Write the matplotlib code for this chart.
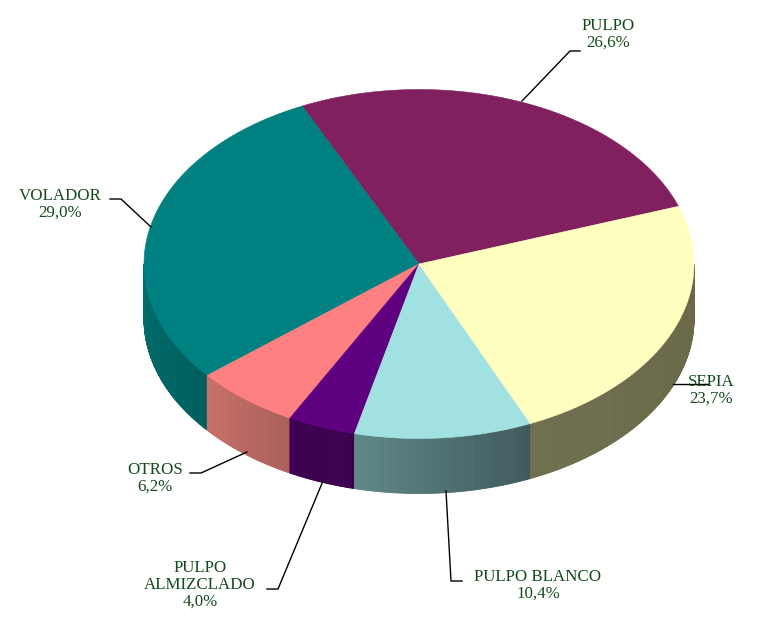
import numpy as np
import matplotlib
matplotlib.use('Agg')
import matplotlib.pyplot as plt
from matplotlib.patches import Polygon
from matplotlib.colors import to_rgb

plt.rcParams['font.family'] = ['Liberation Serif', 'DejaVu Serif']

# data, counter clockwise from the PULPO / SEPIA boundary
names = ['PULPO', 'VOLADOR', 'OTROS', 'PULPO\nALMIZCLADO', 'PULPO BLANCO', 'SEPIA']
values = [26.6, 29.0, 6.2, 4.0, 10.4, 23.7]
top_colors = ['#80205f', '#008080', '#ff8080', '#5f0080', '#a2e1e1', '#ffffc0']
side_from = ['#5a1643', '#016f6e', '#c9716a', '#3c0050', '#5f8886', '#6f6f50']
side_to = ['#5a1643', '#005f5e', '#aa5f5a', '#3a004e', '#3f5a5c', '#696948']

start_angle = 19.3
cx, cy = 419, 264
rx, ry = 275, 174.5
depth = 55
text_color = '#124a1c'
font_size = 12.2

fig = plt.figure(figsize=(7.69, 6.17), dpi=100)
ax = fig.add_axes([0, 0, 1, 1])
ax.set_xlim(0, 769)
ax.set_ylim(617, 0)
ax.axis('off')

def ell(a, dz=0):
	t = np.radians(a)
	return cx + rx * np.cos(t), cy - ry * np.sin(t) + dz

# slice boundaries from the values
total = float(sum(values))
spans = [v / total * 360 for v in values]
edges = start_angle + np.concatenate([[0], np.cumsum(spans)])

# side wall, only the front half is seen
for i in range(len(values)):
	a0 = max(edges[i], 180)
	a1 = min(edges[i + 1], 360)
	if a1 <= a0:
		continue
	c0 = np.array(to_rgb(side_from[i]))
	c1 = np.array(to_rgb(side_to[i]))
	steps = np.linspace(a0, a1, int((a1 - a0) * 3) + 2)
	for k in range(len(steps) - 1):
		f = k / max(len(steps) - 2, 1)
		col = c0 + (c1 - c0) * f
		p0 = ell(steps[k])
		p1 = ell(steps[k + 1])
		p2 = ell(steps[k + 1], depth)
		p3 = ell(steps[k], depth)
		ax.add_patch(Polygon([p0, p1, p2, p3], closed=True, fc=col, ec=col, lw=0.6, zorder=2))

# top face
for i in range(len(values)):
	a = np.linspace(edges[i], edges[i + 1], 200)
	x, y = ell(a)
	pts = np.column_stack([np.r_[cx, x], np.r_[cy, y]])
	ax.add_patch(Polygon(pts, closed=True, fc=top_colors[i], ec=top_colors[i], lw=0.4, zorder=3))

# leader lines and labels
leaders = [
	[(522, 101), (570, 51), (580, 51)],
	[(151, 227), (121, 199), (110, 199)],
	[(247, 452), (201, 473), (190, 473)],
	[(323, 481), (278, 589), (267, 589)],
	[(446, 491), (451, 581), (462, 581)],
	[(673, 384), (708, 384)],
]
label_pos = [(608, 34), (60, 204), (155, 478), (200, 585), (538, 585), (711, 390)]
for i in range(len(names)):
	xs, ys = zip(*leaders[i])
	ax.plot(xs, ys, color='black', lw=1.0, zorder=4, solid_joinstyle='miter')
	txt = names[i] + '\n' + ('%.1f%%' % values[i]).replace('.', ',')
	ax.text(label_pos[i][0], label_pos[i][1], txt, ha='center', va='center', ma='center',
		color=text_color, fontsize=font_size, linespacing=1.08, zorder=5)

fig.savefig('out.png', dpi=100, facecolor='white')
